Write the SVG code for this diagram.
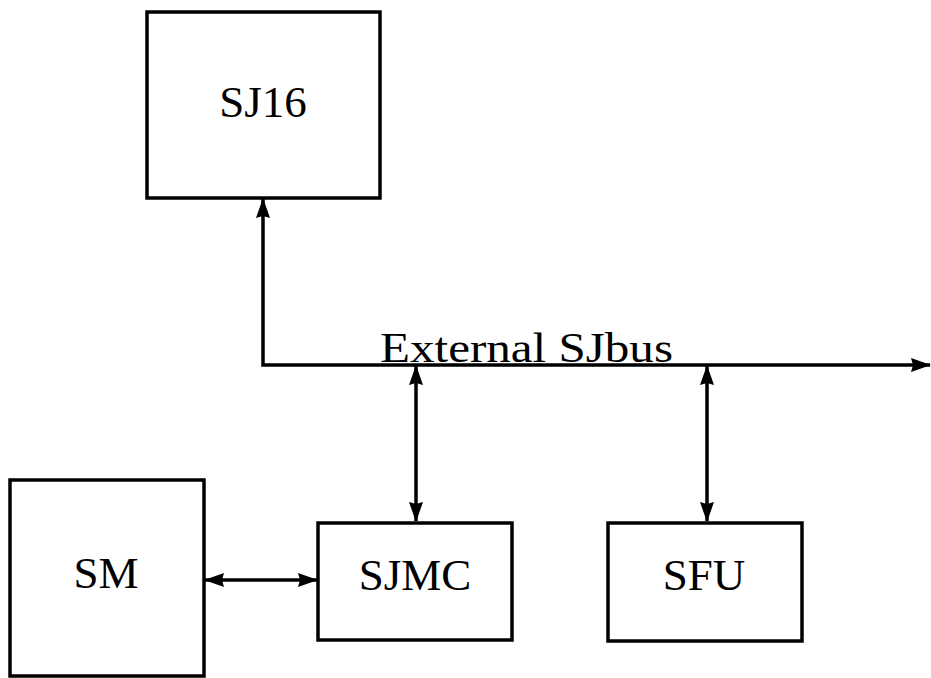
<svg xmlns="http://www.w3.org/2000/svg" width="931" height="678" viewBox="0 0 931 678">
<style>
.box{fill:#fff;stroke:#000;stroke-width:3.5}
.lbl{font-family:"Liberation Serif","Times New Roman",serif;font-size:45px;fill:#000;text-anchor:middle}
.con{fill:none;stroke:#000;stroke-width:3.5}
</style>
<defs>
<marker id="ah" viewBox="0 0 20 14" refX="19" refY="7" markerWidth="20" markerHeight="14" markerUnits="userSpaceOnUse" orient="auto-start-reverse">
<path d="M0,0 L20,7 L0,14 L2,7 Z" fill="#000"/>
</marker>
</defs>
<rect width="931" height="678" fill="#fff"/>
<g id="connectors">
<path class="con" d="M263,199 V365 H930" marker-start="url(#ah)" marker-end="url(#ah)"/>
<path class="con" d="M416,366 V521" marker-start="url(#ah)" marker-end="url(#ah)"/>
<path class="con" d="M707,366 V521" marker-start="url(#ah)" marker-end="url(#ah)"/>
<path class="con" d="M205,580 H317" marker-start="url(#ah)" marker-end="url(#ah)"/>
<text x="380" y="362" font-family="Liberation Serif,Times New Roman,serif" font-size="42" textLength="293" lengthAdjust="spacingAndGlyphs">External SJbus</text>
</g>
<g id="SJ16">
<rect class="box" x="147" y="12" width="233" height="186"/>
<text class="lbl" x="263" y="117" font-size="44">SJ16</text>
</g>
<g id="SM">
<rect class="box" x="10" y="480" width="194" height="196"/>
<text class="lbl" x="106" y="588">SM</text>
</g>
<g id="SJMC">
<rect class="box" x="318" y="523" width="194" height="117"/>
<text class="lbl" x="415" y="590">SJMC</text>
</g>
<g id="SFU">
<rect class="box" x="608" y="523" width="194" height="118"/>
<text class="lbl" x="704" y="590">SFU</text>
</g>
</svg>
